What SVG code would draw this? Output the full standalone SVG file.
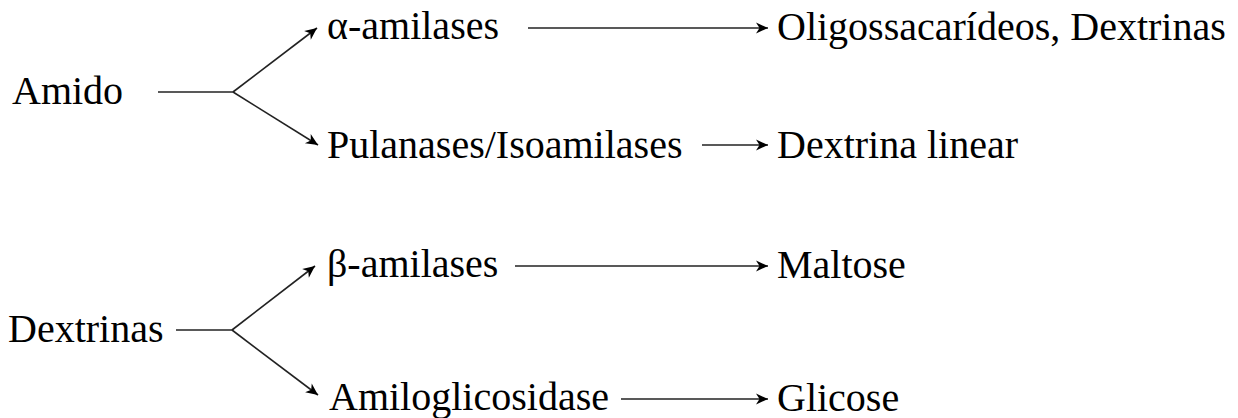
<svg xmlns="http://www.w3.org/2000/svg" width="1238" height="418" viewBox="0 0 1238 418">
<style>
text{font-family:"Liberation Serif","Times New Roman",serif;font-size:40px;fill:#000}
.c{stroke:#222;stroke-width:1.6;fill:none}
.a{marker-end:url(#ah)}
</style>
<defs>
<marker id="ah" viewBox="-13 -6 14 12" refX="0" refY="0" markerWidth="14" markerHeight="12" markerUnits="userSpaceOnUse" orient="auto">
<path d="M0,0 L-12,-5.5 L-8.5,0 L-12,5.5 Z" fill="#000"/>
</marker>
</defs>
<rect width="1238" height="418" fill="#fff"/>
<g id="connectors">
<line class="c" x1="158" y1="92" x2="233" y2="92"/>
<line class="c a" x1="233" y1="92" x2="317" y2="28"/>
<line class="c a" x1="233" y1="92" x2="318" y2="145"/>
<line class="c a" x1="528" y1="28" x2="768" y2="28"/>
<line class="c a" x1="702" y1="145" x2="768" y2="145"/>
<line class="c" x1="176" y1="330" x2="232" y2="330"/>
<line class="c a" x1="232" y1="330" x2="315" y2="266"/>
<line class="c a" x1="232" y1="330" x2="318" y2="395"/>
<line class="c a" x1="515" y1="266" x2="768" y2="266"/>
<line class="c a" x1="621" y1="399" x2="768" y2="399"/>
</g>
<g id="amido"><text x="12" y="104">Amido</text></g>
<g id="alfa"><text x="327" y="39">α-amilases</text></g>
<g id="oligo"><text x="777" y="40">Oligossacarídeos, Dextrinas</text></g>
<g id="pulanases"><text x="327" y="158">Pulanases/Isoamilases</text></g>
<g id="dextrina-linear"><text x="777" y="158">Dextrina linear</text></g>
<g id="dextrinas"><text x="8" y="342">Dextrinas</text></g>
<g id="beta"><text x="327" y="277">β-amilases</text></g>
<g id="maltose"><text x="777" y="278">Maltose</text></g>
<g id="amilo"><text x="329" y="410">Amiloglicosidase</text></g>
<g id="glicose"><text x="777" y="411">Glicose</text></g>
</svg>
